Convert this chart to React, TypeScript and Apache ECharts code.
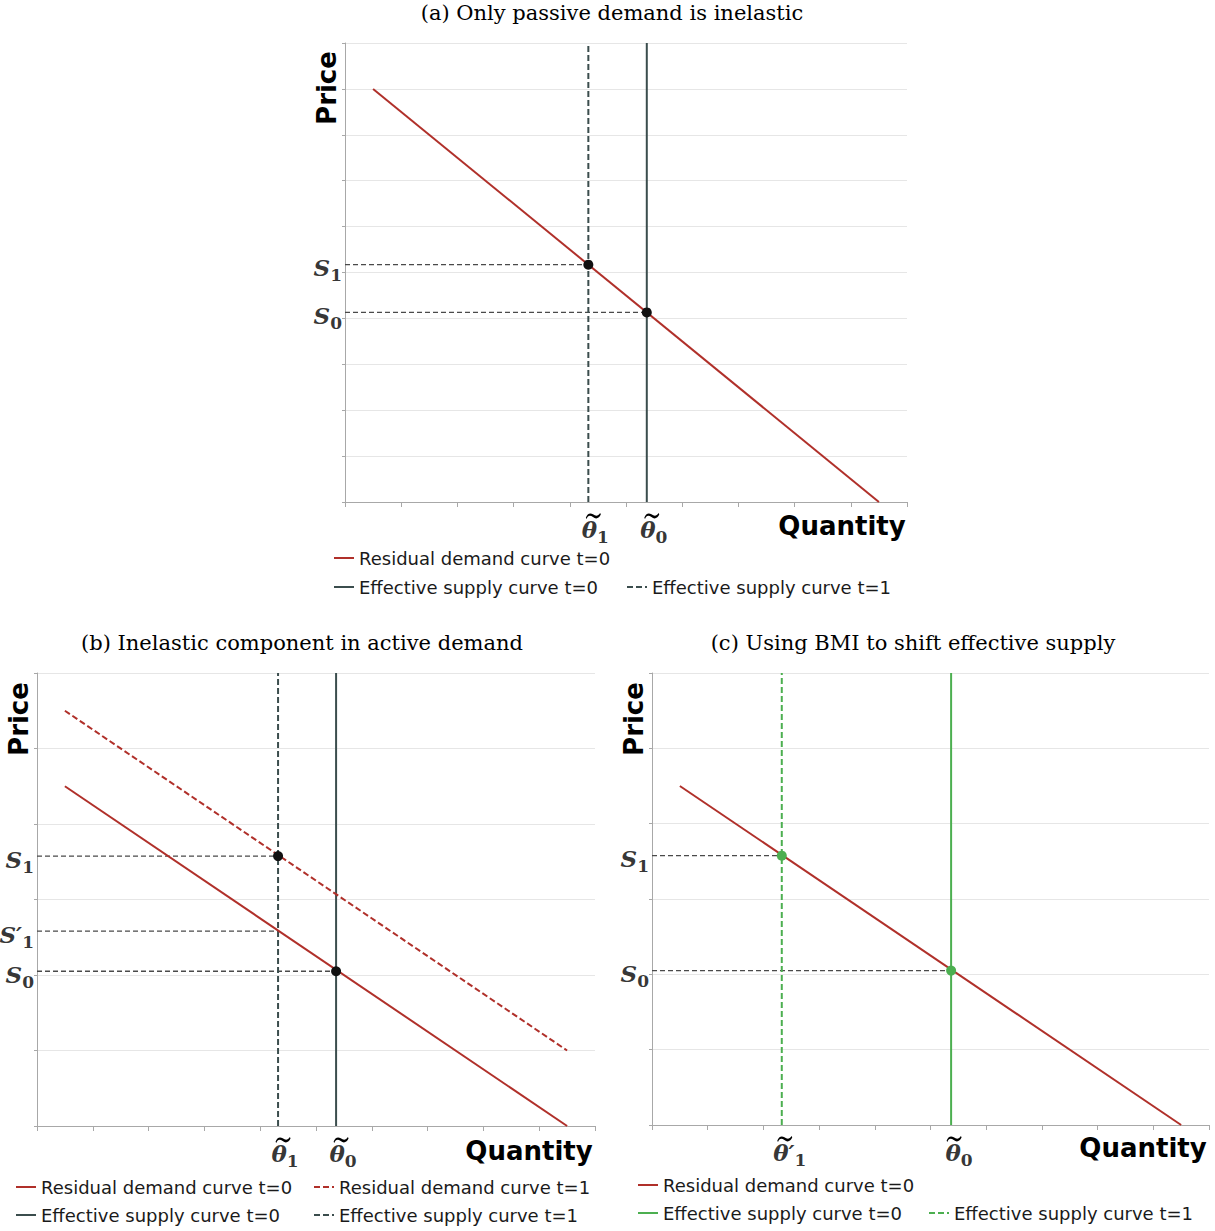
import React, { useEffect, useRef } from "react";
import * as echarts from "echarts";

// ---------- data ----------
// panel (a): y axis 0..10
const demandA = [[0.5, 9], [9.5, 0]];
const thetaA = [5.37, 4.33]; // theta0, theta1
const priceA = [4.13, 5.17]; // S0, S1
// panel (b): y axis 0..12
const demand0B = [[0.5, 9], [9.5, 0]];
const demand1B = [[0.5, 11], [9.5, 2]];
const thetaB = [5.36, 4.32]; // theta0, theta1
const priceB = [4.1, 5.16, 7.15]; // S0, S1', S1
// panel (c): y axis 0..12
const demandC = [[0.5, 9], [9.5, 0]];
const thetaC = [5.37, 2.33]; // theta0, theta'1
const priceC = [4.1, 7.15]; // S0, S1

const TITLES = [
  "(a) Only passive demand is inelastic",
  "(b) Inelastic component in active demand",
  "(c) Using BMI to shift effective supply",
];
const LEG = {
  d0: "Residual demand curve t=0",
  d1: "Residual demand curve t=1",
  s0: "Effective supply curve t=0",
  s1: "Effective supply curve t=1",
};

// ---------- styles ----------
const SANS = "DejaVu Sans";
const SERIF = "DejaVu Serif";
const RED = "#b0302a";
const SLATE = "#3b4d4d";
const GREEN = "#4caf50";
const GUIDE = "#4a4a4a";
const AXIS = "#a8a8a8";
const GRID = "#e6e6e6";
const TILDE = "path://M0,8 C2,2 6,0 10,3 C14,6 17,6 20,1 L21,3 C19,9 14,11 10,7 C6,4 3,4 1,10 Z";

const rich = {
  m: { fontFamily: SERIF, fontStyle: "italic", fontWeight: "bold", fontSize: 23, lineHeight: 32, color: "#000" },
  s: { fontFamily: SERIF, fontWeight: "bold", fontSize: 17, lineHeight: 16, verticalAlign: "bottom", color: "#000" },
};

function axes(yMax: number, yInt: number) {
  return {
    xAxis: {
      type: "value", min: 0, max: 10, interval: 1,
      axisLine: { show: true, lineStyle: { color: AXIS, width: 1 } },
      axisTick: { show: true, length: 5, lineStyle: { color: AXIS } },
      axisLabel: { show: false }, splitLine: { show: false },
    },
    yAxis: {
      type: "value", min: 0, max: yMax, interval: yInt,
      axisLine: { show: true, lineStyle: { color: AXIS, width: 1 } },
      axisTick: { show: true, length: 3, lineStyle: { color: AXIS } },
      axisLabel: { show: false },
      splitLine: { show: true, lineStyle: { color: GRID, width: 1 } },
    },
  };
}

function line(name: string, data: number[][], color: string, dashed: boolean, z = 2) {
  return {
    type: "line", name, data, symbol: "none", silent: true, z,
    lineStyle: { color, width: 2, type: dashed ? [6, 3] : "solid" },
    itemStyle: { color },
  };
}
function guide(data: number[][]) {
  return {
    type: "line", data, symbol: "none", silent: true, z: 1,
    lineStyle: { color: GUIDE, width: 1.3, type: [5, 3] },
  };
}
function points(data: number[][], color: string) {
  return { type: "scatter", data, symbolSize: 10, itemStyle: { color, opacity: 1 }, silent: true, z: 5 };
}
function yLabels(items: { v: number; t: string }[]) {
  return {
    type: "scatter", symbolSize: 0, silent: true, z: 6,
    data: items.map((it) => ({ value: [0, it.v], label: { formatter: it.t } })),
    label: { show: true, position: "left", distance: 3, offset: [0, 3], rich },
  };
}
function xLabels(items: { v: number; t: string }[], dx: number) {
  return {
    type: "scatter", symbolSize: 0, silent: true, z: 6,
    data: items.map((it) => ({ value: [it.v, 0], label: { formatter: it.t } })),
    label: { show: true, position: "bottom", distance: 11, offset: [dx, 0], rich },
  };
}
function tildes(xs: number[], dx: number) {
  return {
    type: "scatter", silent: true, z: 6, clip: false,
    data: xs.map((x) => [x, 0]),
    symbol: TILDE, symbolSize: [15, 6], symbolOffset: [dx, 14],
    itemStyle: { color: "#000", opacity: 1 },
  };
}
function legendItem(name: string, left: number, top: number) {
  return {
    data: [name], left, top, padding: 0, itemWidth: 20, itemHeight: 12, selectedMode: false,
    itemStyle: { opacity: 0 },
    textStyle: { fontFamily: SANS, fontSize: 18, color: "#1a1a1a" },
  };
}
function txt(text: string, x: number, y: number, size: number, family: string, weight: string, rot = 0) {
  return {
    type: "text", x, y, rotation: rot, silent: true,
    style: { text, fontSize: size, fontFamily: family, fontWeight: weight, fill: "#000", textAlign: "center", textVerticalAlign: "middle" },
  };
}

const optionA = {
  animation: false,
  grid: { left: 345, top: 43, width: 562, height: 459 },
  ...axes(10, 1),
  legend: [legendItem(LEG.d0, 333, 549), legendItem(LEG.s0, 333, 578), legendItem(LEG.s1, 626, 578)],
  graphic: [
    txt(TITLES[0], 612, 13, 21, SERIF, "normal"),
    txt("Price", 327, 88, 26, SANS, "bold", Math.PI / 2),
    txt("Quantity", 842, 526, 26, SANS, "bold"),
  ],
  series: [
    guide([[0, priceA[1]], [thetaA[1], priceA[1]]]),
    guide([[0, priceA[0]], [thetaA[0], priceA[0]]]),
    line(LEG.d0, demandA, RED, false, 3),
    line(LEG.s0, [[thetaA[0], 0], [thetaA[0], 10]], SLATE, false),
    line(LEG.s1, [[thetaA[1], 0], [thetaA[1], 10]], SLATE, true),
    points([[thetaA[1], priceA[1]], [thetaA[0], priceA[0]]], "#111"),
    yLabels([{ v: priceA[1], t: "{m|S}{s|1}" }, { v: priceA[0], t: "{m|S}{s|0}" }]),
    xLabels([{ v: thetaA[1], t: "{m|θ}{s|1}" }, { v: thetaA[0], t: "{m|θ}{s|0}" }], 7),
    tildes([thetaA[1], thetaA[0]], 5),
  ],
};

const optionB = {
  animation: false,
  grid: { left: 37, top: 63, width: 558, height: 453 },
  ...axes(12, 2),
  legend: [
    legendItem(LEG.d0, 15, 568), legendItem(LEG.d1, 313, 568),
    legendItem(LEG.s0, 15, 596), legendItem(LEG.s1, 313, 596),
  ],
  graphic: [
    txt(TITLES[1], 302, 33, 21, SERIF, "normal"),
    txt("Price", 19, 109, 26, SANS, "bold", Math.PI / 2),
    txt("Quantity", 529, 541, 26, SANS, "bold"),
  ],
  series: [
    guide([[0, priceB[2]], [thetaB[1], priceB[2]]]),
    guide([[0, priceB[1]], [thetaB[1], priceB[1]]]),
    guide([[0, priceB[0]], [thetaB[0], priceB[0]]]),
    line(LEG.d0, demand0B, RED, false, 3),
    line(LEG.d1, demand1B, RED, true, 3),
    line(LEG.s0, [[thetaB[0], 0], [thetaB[0], 12]], SLATE, false),
    line(LEG.s1, [[thetaB[1], 0], [thetaB[1], 12]], SLATE, true),
    points([[thetaB[1], priceB[2]], [thetaB[0], priceB[0]]], "#111"),
    yLabels([
      { v: priceB[2], t: "{m|S}{s|1}" },
      { v: priceB[1], t: "{m|S′}{s|1}" },
      { v: priceB[0], t: "{m|S}{s|0}" },
    ]),
    xLabels([{ v: thetaB[1], t: "{m|θ}{s|1}" }, { v: thetaB[0], t: "{m|θ}{s|0}" }], 7),
    tildes([thetaB[1], thetaB[0]], 5),
  ],
};

const optionC = {
  animation: false,
  grid: { left: 42, top: 63, width: 557, height: 452 },
  ...axes(12, 2),
  legend: [legendItem(LEG.d0, 27, 566), legendItem(LEG.s0, 27, 594), legendItem(LEG.s1, 318, 594)],
  graphic: [
    txt(TITLES[2], 303, 33, 21, SERIF, "normal"),
    txt("Price", 24, 109, 26, SANS, "bold", Math.PI / 2),
    txt("Quantity", 533, 538, 26, SANS, "bold"),
  ],
  series: [
    guide([[0, priceC[1]], [thetaC[1], priceC[1]]]),
    guide([[0, priceC[0]], [thetaC[0], priceC[0]]]),
    line(LEG.d0, demandC, RED, false, 3),
    line(LEG.s0, [[thetaC[0], 0], [thetaC[0], 12]], GREEN, false),
    line(LEG.s1, [[thetaC[1], 0], [thetaC[1], 12]], GREEN, true),
    points([[thetaC[1], priceC[1]], [thetaC[0], priceC[0]]], GREEN),
    yLabels([{ v: priceC[1], t: "{m|S}{s|1}" }, { v: priceC[0], t: "{m|S}{s|0}" }]),
    xLabels([{ v: thetaC[1], t: "{m|θ′}{s|1}" }, { v: thetaC[0], t: "{m|θ}{s|0}" }], 8),
    tildes([thetaC[1], thetaC[0]], 3),
  ],
};

export default function App() {
  const refA = useRef<HTMLDivElement>(null);
  const refB = useRef<HTMLDivElement>(null);
  const refC = useRef<HTMLDivElement>(null);
  useEffect(() => {
    const charts = [refA, refB, refC].map((r) => echarts.init(r.current as HTMLDivElement, null, { renderer: "svg" }));
    charts[0].setOption(optionA as any);
    charts[1].setOption(optionB as any);
    charts[2].setOption(optionC as any);
    return () => charts.forEach((c) => c.dispose());
  }, []);
  return (
    <div style={{ position: "absolute", left: 0, top: 0, width: 1215, height: 1231, background: "#fff" }}>
      <div ref={refA} style={{ position: "absolute", left: 0, top: 0, width: 1215, height: 610 }} />
      <div ref={refB} style={{ position: "absolute", left: 0, top: 610, width: 610, height: 621 }} />
      <div ref={refC} style={{ position: "absolute", left: 610, top: 610, width: 605, height: 621 }} />
    </div>
  );
}
